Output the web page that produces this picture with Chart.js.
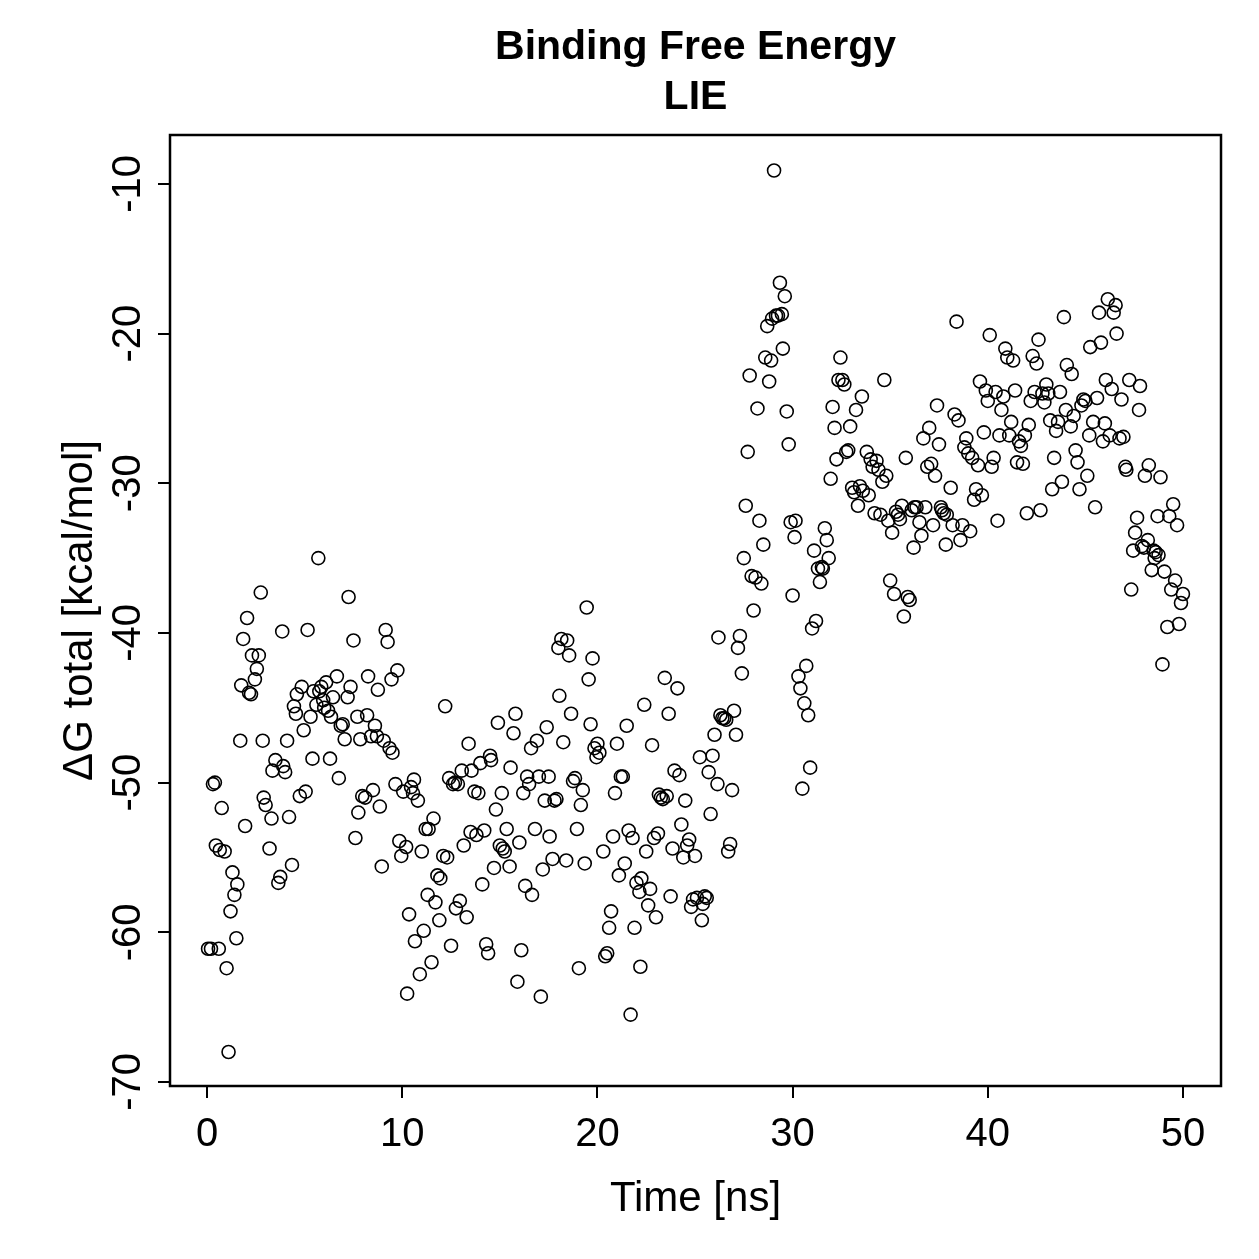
<!DOCTYPE html>
<html>
<head>
<meta charset="utf-8">
<title>Binding Free Energy - LIE</title>
<script src="https://cdn.jsdelivr.net/npm/chart.js@4.4.1/dist/chart.umd.min.js"></script>
<style>
    html, body { margin: 0; padding: 0; background: #fff; }
    canvas { display: block; }
</style>
</head>
<body>
<canvas id="lieChart" width="1259" height="1259"></canvas>
<script>
const titleLines = ["Binding Free Energy", "LIE"];
const xTitle = "Time [ns]";
const yTitle = "\u0394G total [kcal/mol]";
const xTicks = [0, 10, 20, 30, 40, 50];
const yTicks = [-10, -20, -30, -40, -50, -60, -70];

// values
const timeNs = [
    0.05, 0.2, 0.3, 0.4, 0.45, 0.6, 0.65, 0.75, 0.9, 1.0, 1.1, 1.2, 1.3, 1.4, 1.5, 1.55,
    1.7, 1.75, 1.85, 1.95, 2.05, 2.15, 2.25, 2.3, 2.45, 2.55, 2.65, 2.75, 2.85, 2.9, 3.0,
    3.2, 3.3, 3.35, 3.5, 3.65, 3.75, 3.85, 3.9, 4.0, 4.1, 4.2, 4.35, 4.45, 4.55, 4.6, 4.75, 4.85, 4.95,
    5.05, 5.15, 5.3, 5.4, 5.45, 5.6, 5.7, 5.75, 5.85, 5.95, 6.0, 6.1, 6.2, 6.3, 6.35, 6.45,
    6.65, 6.75, 6.85, 6.95, 7.05, 7.2, 7.25, 7.35, 7.5, 7.6, 7.7, 7.75, 7.85, 7.95,
    8.1, 8.2, 8.25, 8.4, 8.5, 8.6, 8.7, 8.75, 8.85, 8.95, 9.05, 9.15, 9.25, 9.35, 9.45, 9.5, 9.65, 9.75, 9.85, 9.95,
    10.05, 10.2, 10.25, 10.35, 10.45, 10.55, 10.6, 10.65, 10.8, 10.9, 11.0, 11.1, 11.2, 11.3, 11.35, 11.5, 11.6, 11.7, 11.8, 11.9, 11.95,
    12.1, 12.2, 12.3, 12.4, 12.5, 12.6, 12.7, 12.75, 12.85, 12.95, 13.05, 13.15, 13.3, 13.4, 13.5, 13.55, 13.7, 13.8, 13.9,
    14.0, 14.1, 14.2, 14.3, 14.4, 14.5, 14.55, 14.7, 14.8, 14.9, 15.0, 15.1, 15.15, 15.25, 15.35, 15.5, 15.55, 15.7, 15.8, 15.9,
    16.0, 16.1, 16.2, 16.3, 16.4, 16.5, 16.6, 16.65, 16.8, 16.9, 17.0, 17.1, 17.2, 17.3, 17.4, 17.5, 17.55, 17.7, 17.8, 17.9,
    18.0, 18.05, 18.15, 18.25, 18.4, 18.45, 18.55, 18.65, 18.75, 18.85, 18.95, 19.05, 19.15, 19.25, 19.35, 19.45, 19.55, 19.65, 19.75, 19.85, 19.95,
    20.0, 20.1, 20.3, 20.4, 20.5, 20.6, 20.7, 20.8, 20.9, 21.0, 21.1, 21.2, 21.3, 21.4, 21.5, 21.6, 21.7, 21.8, 21.9,
    22.0, 22.15, 22.2, 22.25, 22.4, 22.5, 22.6, 22.7, 22.8, 22.9, 23.0, 23.1, 23.15, 23.25, 23.35, 23.45, 23.55, 23.65, 23.75, 23.85, 23.95,
    24.1, 24.2, 24.3, 24.4, 24.5, 24.6, 24.7, 24.8, 24.9, 25.0, 25.1, 25.25, 25.35, 25.4, 25.5, 25.6, 25.7, 25.8, 25.9,
    26.0, 26.15, 26.2, 26.3, 26.4, 26.5, 26.6, 26.7, 26.8, 26.9, 27.0, 27.1, 27.2, 27.3, 27.4, 27.5, 27.6, 27.7, 27.8, 27.9,
    28.0, 28.1, 28.2, 28.3, 28.4, 28.5, 28.6, 28.7, 28.8, 28.9, 28.95, 29.05, 29.15, 29.25, 29.35, 29.45, 29.5, 29.6, 29.7, 29.8, 29.9,
    30.0, 30.1, 30.15, 30.3, 30.4, 30.5, 30.6, 30.7, 30.8, 30.9, 31.0, 31.1, 31.2, 31.3, 31.4, 31.5, 31.55, 31.65, 31.75, 31.85, 31.95,
    32.05, 32.15, 32.25, 32.35, 32.45, 32.55, 32.65, 32.75, 32.85, 32.95, 33.05, 33.15, 33.25, 33.35, 33.45, 33.55, 33.6, 33.8, 33.9,
    34.0, 34.1, 34.2, 34.3, 34.4, 34.5, 34.6, 34.7, 34.8, 34.9, 35.0, 35.1, 35.2, 35.3, 35.4, 35.5, 35.6, 35.7, 35.8, 35.9,
    36.0, 36.1, 36.2, 36.25, 36.35, 36.5, 36.6, 36.7, 36.8, 36.9, 37.0, 37.1, 37.2, 37.3, 37.4, 37.5, 37.6, 37.65, 37.75, 37.85, 37.9,
    38.1, 38.2, 38.3, 38.4, 38.5, 38.6, 38.7, 38.8, 38.9, 39.0, 39.1, 39.2, 39.3, 39.4, 39.5, 39.6, 39.7, 39.8, 39.9,
    40.0, 40.1, 40.2, 40.3, 40.4, 40.5, 40.6, 40.7, 40.8, 40.9, 41.0, 41.1, 41.2, 41.3, 41.4, 41.5, 41.6, 41.7, 41.8, 41.9,
    42.0, 42.1, 42.2, 42.3, 42.4, 42.5, 42.6, 42.7, 42.8, 42.9, 43.0, 43.1, 43.2, 43.3, 43.4, 43.5, 43.6, 43.7, 43.8, 43.9,
    44.0, 44.05, 44.25, 44.3, 44.4, 44.5, 44.6, 44.7, 44.8, 44.9, 45.0, 45.1, 45.2, 45.25, 45.4, 45.5, 45.6, 45.7, 45.8, 45.9,
    46.0, 46.05, 46.15, 46.25, 46.35, 46.45, 46.55, 46.6, 46.75, 46.85, 46.95, 47.05, 47.1, 47.25, 47.35, 47.45, 47.55, 47.65, 47.75, 47.8, 47.9,
    48.0, 48.05, 48.2, 48.25, 48.4, 48.5, 48.55, 48.6, 48.7, 48.75, 48.85, 48.95, 49.05, 49.2, 49.3, 49.4, 49.5, 49.6, 49.7, 49.8, 49.9, 50.0
];

const deltaG = [
    -61.1, -61.1, -50.1, -50.0, -54.2, -61.1, -54.5, -51.7, -54.6, -62.4, -68.0, -58.6, -56.0, -57.5, -60.4, -56.8,
    -47.2, -43.5, -40.4, -52.9, -39.0, -44.0, -44.1, -41.5, -43.1, -42.4, -41.5, -37.3, -47.2, -51.0, -51.5,
    -54.4, -52.4, -49.2, -48.5, -56.7, -56.3, -39.9, -48.9, -49.3, -47.2, -52.3, -55.5, -44.9, -45.4, -44.1, -50.9, -43.6, -46.5,
    -50.6, -39.8, -45.6, -48.4, -43.9, -44.8, -35.0, -43.9, -43.6, -44.5, -45.0, -43.3, -45.2, -48.4, -45.6, -44.3,
    -42.9, -49.7, -46.2, -46.1, -47.1, -44.3, -37.6, -43.6, -40.5, -53.7, -45.6, -52.0, -47.1, -50.9,
    -51.0, -45.5, -42.9, -46.9, -50.5, -46.2, -46.9, -43.8, -51.6, -55.6, -47.2, -39.8, -40.6, -47.7, -43.1, -48.0, -50.1, -42.5, -53.9, -54.9,
    -50.6, -54.3, -64.1, -58.8, -50.3, -50.7, -49.8, -60.6, -51.2, -62.8, -54.6, -59.9, -53.1, -57.5, -53.1, -62.0, -52.4, -58.0, -56.2, -59.2, -56.4,
    -54.9, -44.9, -55.0, -49.7, -60.9, -50.1, -50.0, -58.4, -50.1, -57.9, -49.2, -54.2, -59.0, -47.4, -53.3, -49.2, -50.6, -53.5, -50.7,
    -48.7, -56.8, -53.2, -60.8, -61.4, -48.2, -48.5, -55.7, -51.8, -46.0, -54.2, -50.7, -54.4, -54.6, -53.1, -55.6, -49.0, -46.7, -45.4, -63.3,
    -54.0, -61.2, -50.7, -56.9, -49.6, -50.1, -47.7, -57.5, -53.1, -47.2, -49.6, -64.3, -55.8, -51.2, -46.3, -49.6, -53.6, -55.1, -51.2, -51.1,
    -41.0, -44.2, -40.4, -47.3, -55.2, -40.5, -41.5, -45.4, -49.9, -49.7, -53.1, -62.4, -51.5, -50.5, -55.4, -38.3, -43.1, -46.1, -41.7, -47.7, -48.3,
    -47.4, -48.0, -54.6, -61.6, -61.4, -59.7, -58.6, -53.6, -50.7, -47.4, -56.2, -49.6, -49.6, -55.4, -46.2, -53.2, -65.5, -53.7, -59.7,
    -56.7, -57.3, -62.3, -56.4, -44.8, -54.6, -58.2, -57.1, -47.5, -53.7, -59.0, -53.4, -50.8, -51.0, -51.1, -43.0, -50.9, -45.4, -57.6, -54.4, -49.2,
    -43.7, -49.5, -52.8, -55.0, -51.2, -54.2, -53.8, -58.3, -57.8, -54.9, -57.7, -48.3, -59.2, -58.1, -57.6, -57.7, -49.3, -52.1, -48.2,
    -46.8, -50.1, -40.3, -45.5, -45.7, -45.7, -45.8, -54.6, -54.1, -50.5, -45.2, -46.8, -41.0, -40.2, -42.7, -35.0, -31.5, -27.9, -22.8, -36.2,
    -38.5, -36.3, -25.0, -32.5, -36.7, -34.1, -21.6, -19.5, -23.2, -21.8, -19.0, -9.1, -18.8, -18.8, -16.6, -18.7, -21.0, -17.5, -25.2, -27.4, -32.6,
    -37.5, -33.6, -32.5, -42.9, -43.7, -50.4, -44.7, -42.2, -45.5, -49.0, -39.7, -34.5, -39.2, -35.7, -36.6, -35.6, -35.7, -33.0, -33.8, -35.0, -29.7,
    -24.9, -26.3, -28.4, -23.1, -21.6, -23.1, -23.4, -27.9, -27.8, -26.2, -30.3, -30.6, -25.1, -31.5, -30.2, -24.2, -30.5, -27.9, -30.8,
    -28.4, -28.9, -32.0, -28.5, -29.1, -32.1, -29.9, -23.1, -29.5, -32.5, -36.5, -33.3, -37.4, -31.9, -32.1, -32.4, -31.5, -38.9, -28.3, -37.6,
    -37.8, -31.8, -34.3, -31.6, -31.6, -32.6, -33.5, -27.0, -31.6, -28.9, -26.3, -28.7, -32.8, -29.5, -24.8, -27.4, -31.6, -31.8, -32.0, -34.1, -32.1,
    -30.3, -32.8, -25.4, -19.2, -25.8, -33.8, -32.8, -27.6, -27.0, -28.0, -33.2, -28.3, -31.1, -30.4, -28.8, -23.2, -30.8, -26.6, -23.8,
    -24.5, -20.1, -28.9, -28.3, -23.9, -32.5, -26.8, -25.1, -24.2, -21.0, -21.6, -26.8, -25.9, -21.8, -23.8, -28.6, -27.2, -27.5, -28.7, -26.8,
    -32.0, -26.1, -24.5, -21.5, -23.9, -22.0, -20.4, -31.8, -24.0, -24.6, -23.4, -24.0, -25.8, -30.4, -28.3, -26.5, -25.9, -23.9, -29.9, -18.9,
    -25.1, -22.1, -26.2, -22.7, -25.5, -27.8, -28.6, -30.4, -24.8, -24.4, -24.5, -29.5, -26.8, -20.9, -25.9, -31.6, -24.3, -18.6, -20.6, -27.2,
    -26.0, -23.1, -17.7, -26.8, -23.7, -18.6, -18.1, -20.0, -27.0, -24.4, -26.9, -28.9, -29.1, -23.1, -37.1, -34.5, -33.3, -32.3, -25.1, -23.5, -34.2,
    -34.3, -29.5, -33.8, -28.8, -35.8, -34.5, -35.0, -34.6, -32.2, -34.8, -29.6, -42.1, -35.9, -39.6, -32.2, -37.1, -31.4, -36.5, -32.8, -39.4, -38.0, -37.4
];

const FONT = "'Liberation Sans', Arial, Helvetica, sans-serif";

const points = timeNs.map((t, i) => ({ x: t, y: deltaG[i] }));

// white background, plot frame and the two-line title centred on the plot area
const frameAndTitle = {
    id: "frameAndTitle",
    beforeDraw(chart) {
        const ctx = chart.ctx;
        ctx.save();
        ctx.fillStyle = "#fff";
        ctx.fillRect(0, 0, chart.width, chart.height);
        ctx.restore();
    },
    afterDraw(chart) {
        const { ctx, chartArea } = chart;
        ctx.save();
        ctx.strokeStyle = "#000";
        ctx.lineWidth = 2.5;
        ctx.strokeRect(chartArea.left, chartArea.top,
            chartArea.right - chartArea.left, chartArea.bottom - chartArea.top);

        ctx.fillStyle = "#000";
        ctx.font = "bold 41px " + FONT;
        ctx.textAlign = "center";
        ctx.textBaseline = "alphabetic";
        const cx = (chartArea.left + chartArea.right) / 2;
        ctx.fillText(titleLines[0], cx, 59);
        ctx.fillText(titleLines[1], cx, 109);
        ctx.restore();
    }
};

new Chart(document.getElementById("lieChart"), {
    type: "scatter",
    data: {
        datasets: [{
            data: points,
            pointStyle: "circle",
            pointRadius: 6.5,
            pointBorderWidth: 1.6,
            borderColor: "#000",
            backgroundColor: "rgba(0,0,0,0)",
            showLine: false
        }]
    },
    options: {
        responsive: false,
        animation: false,
        devicePixelRatio: 1,
        layout: { padding: { top: 135, right: 38, left: 0, bottom: 0 } },
        plugins: {
            legend: { display: false },
            tooltip: { enabled: false },
            title: { display: false }
        },
        scales: {
            x: {
                type: "linear",
                min: -1.9,
                max: 51.95,
                afterBuildTicks: scale => { scale.ticks = xTicks.map(v => ({ value: v })); },
                afterFit: scale => { scale.height = 173; },
                grid: { drawOnChartArea: false, drawTicks: true, tickLength: 12, color: "#000", lineWidth: 2 },
                border: { display: false },
                ticks: {
                    color: "#000",
                    font: { family: FONT, size: 40 },
                    padding: 13,
                    maxRotation: 0,
                    autoSkip: false
                },
                title: {
                    display: true,
                    text: xTitle,
                    color: "#000",
                    font: { family: FONT, size: 42 },
                    padding: { top: 0, bottom: 34 }
                }
            },
            y: {
                type: "linear",
                min: -70.27,
                max: -6.73,
                afterBuildTicks: scale => { scale.ticks = yTicks.map(v => ({ value: v })); },
                afterFit: scale => { scale.width = 170; },
                grid: { drawOnChartArea: false, drawTicks: true, tickLength: 12, color: "#000", lineWidth: 2 },
                border: { display: false },
                ticks: {
                    color: "#000",
                    font: { family: FONT, size: 40 },
                    padding: 0,
                    minRotation: 90,
                    maxRotation: 90,
                    crossAlign: "center",
                    autoSkip: false
                },
                title: {
                    display: true,
                    text: yTitle,
                    color: "#000",
                    font: { family: FONT, size: 42 },
                    padding: { top: 55, bottom: 0 }
                }
            }
        }
    },
    plugins: [frameAndTitle]
});
</script>
</body>
</html>
